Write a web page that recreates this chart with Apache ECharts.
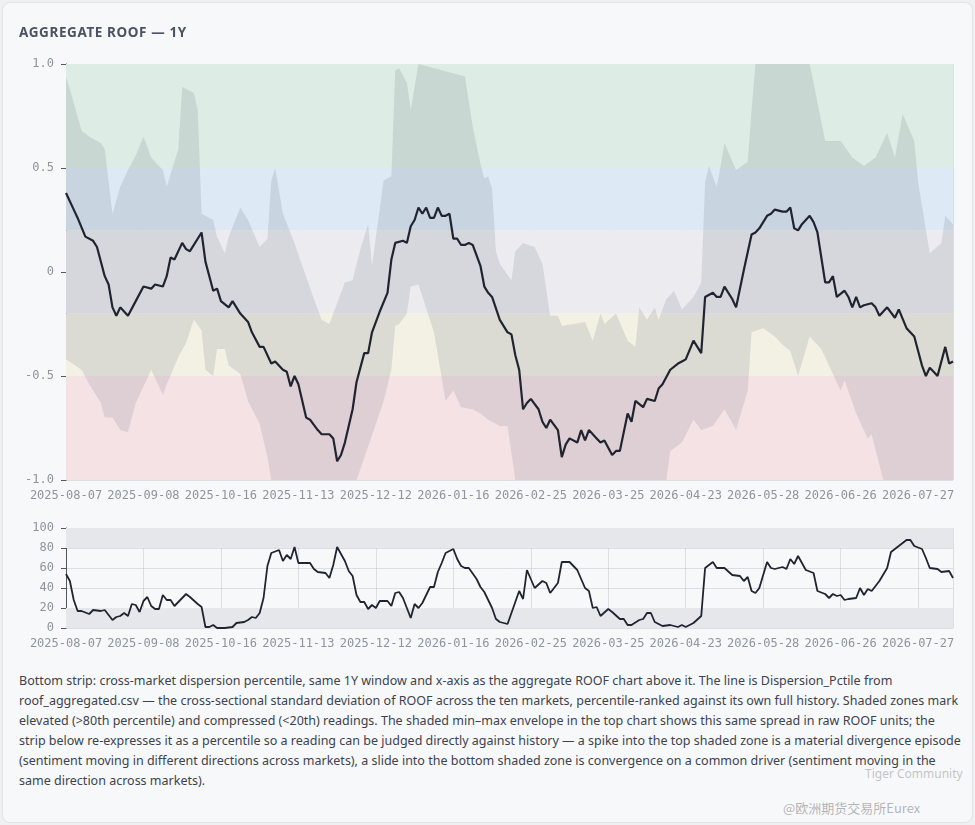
<!DOCTYPE html>
<html>
<head>
<meta charset="utf-8">
<script src="https://cdn.jsdelivr.net/npm/echarts@6/dist/echarts.min.js"></script>
<style>
  html, body { margin: 0; padding: 0; background: #eef0f2; }
  .card { position: absolute; left: 2px; top: 2px; width: 969px; height: 819px; background: #f7f8fa;
          border: 1px solid #e1e4e8; border-radius: 8px; }
  .ttl { position: absolute; left: 16px; top: 20px; font: 700 13.5px "Noto Sans", sans-serif; color: #4b5361; letter-spacing: 0.6px; }
  #chart { position: absolute; left: -3px; top: -3px; width: 975px; height: 665px; }
  .cap { position: absolute; left: 16px; top: 668px; width: 945px; font: 12.5px/20px "Noto Sans", sans-serif; color: #3d434c; }
  .wm1 { position: absolute; left: 862px; top: 762px; font: 12px "Noto Sans", sans-serif; color: rgba(150,150,150,0.55); }
  .wm2 { position: absolute; left: 780px; top: 795px; font: 13px "Noto Sans CJK SC", sans-serif; color: rgba(150,150,150,0.7); }
</style>
</head>
<body>
<div class="card">
  <div id="chart"></div>
  <div class="ttl">AGGREGATE ROOF — 1Y</div>
  <div class="cap">Bottom strip: cross-market dispersion percentile, same 1Y window and x-axis as the aggregate ROOF chart above it. The line is Dispersion_Pctile from roof_aggregated.csv — the cross-sectional standard deviation of ROOF across the ten markets, percentile-ranked against its own full history. Shaded zones mark elevated (&gt;80th percentile) and compressed (&lt;20th) readings. The shaded min–max envelope in the top chart shows this same spread in raw ROOF units; the strip below re-expresses it as a percentile so a reading can be judged directly against history — a spike into the top shaded zone is a material divergence episode (sentiment moving in different directions across markets), a slide into the bottom shaded zone is convergence on a common driver (sentiment moving in the same direction across markets).</div>
  <div class="wm1">Tiger Community</div>
  <div class="wm2">@欧洲期货交易所Eurex</div>
</div>
<script>
// tick labels, one every 20 trading days
var tickLabels = ['2025-08-07','2025-09-08','2025-10-16','2025-11-13','2025-12-12','2026-01-16',
  '2026-02-25','2026-03-25','2026-04-23','2026-05-28','2026-06-26','2026-07-27'];
var lastIndex = 229;

// aggregate ROOF [day index, value]
var roof = [[0,.38],[2,.30],[3,.26],[5,.17],[7,.15],[8,.12],[10,-.02],[11,-.06],[12,-.17],[13,-.21],[14,-.17],[16,-.21],
  [18,-.14],[20,-.07],[22,-.08],[23,-.06],[25,-.07],[26,-.02],[27,.07],[28,.06],[30,.14],[31,.11],[32,.10],[35,.19],
  [36,.05],[38,-.09],[39,-.08],[40,-.14],[42,-.17],[43,-.14],[45,-.20],[47,-.24],[48,-.29],[50,-.36],[51,-.36],[53,-.44],
  [54,-.43],[56,-.47],[57,-.48],[58,-.55],[59,-.50],[60,-.54],[62,-.70],[63,-.71],[65,-.76],[66,-.78],[68,-.78],[69,-.80],
  [70,-.91],[71,-.88],[72,-.82],[74,-.66],[75,-.53],[77,-.39],[78,-.39],[79,-.29],[81,-.19],[83,-.10],[84,.06],[85,.14],
  [87,.15],[88,.14],[89,.22],[90,.25],[91,.31],[92,.28],[93,.31],[94,.26],[95,.26],[96,.31],[97,.27],[98,.27],[99,.28],
  [100,.16],[101,.16],[102,.13],[103,.13],[104,.14],[105,.13],[107,.03],[108,-.07],[109,-.10],[110,-.12],[112,-.23],
  [114,-.29],[115,-.30],[116,-.40],[117,-.47],[118,-.66],[119,-.63],[120,-.61],[122,-.66],[123,-.72],[124,-.75],[125,-.71],
  [127,-.76],[128,-.89],[129,-.83],[130,-.80],[132,-.82],[133,-.76],[134,-.81],[135,-.76],[137,-.80],[138,-.82],[139,-.81],
  [141,-.88],[142,-.86],[143,-.86],[145,-.68],[146,-.72],[147,-.62],[149,-.65],[150,-.61],[152,-.62],[153,-.56],[154,-.54],
  [156,-.47],[158,-.44],[159,-.43],[160,-.42],[162,-.33],[164,-.39],[165,-.12],[167,-.10],[168,-.12],[169,-.12],[170,-.07],
  [172,-.13],[173,-.17],[175,.01],[177,.18],[178,.19],[179,.21],[181,.27],[182,.28],[183,.30],[185,.29],[186,.29],[187,.31],
  [188,.21],[189,.20],[190,.23],[192,.27],[193,.24],[194,.19],[196,-.05],[197,-.05],[198,-.02],[199,-.12],[201,-.09],
  [202,-.12],[203,-.17],[204,-.12],[205,-.17],[206,-.16],[208,-.15],[209,-.17],[210,-.21],[212,-.17],[214,-.22],[215,-.18],
  [217,-.27],[219,-.31],[220,-.38],[221,-.45],[222,-.50],[223,-.46],[224,-.48],[225,-.50],[227,-.36],[228,-.44],[229,-.43]];

// cross-market max / min envelope
var envMax = [[0,.94],[1,.88],[4,.68],[6,.65],[9,.62],[10,.59],[12,.28],[14,.41],[16,.49],[18,.56],[20,.65],[22,.55],
  [24,.51],[25,.49],[26,.41],[29,.59],[30,.89],[33,.86],[34,.78],[35,.28],[38,.25],[39,.17],[41,.09],[42,.17],[45,.31],
  [47,.25],[50,.12],[52,.16],[53,.44],[54,.50],[56,.28],[59,.14],[61,.03],[64,-.13],[66,-.23],[68,-.25],[72,-.05],[74,-.04],
  [76,.11],[78,.23],[79,.03],[82,.44],[84,.46],[85,.97],[86,.98],[88,.91],[89,.78],[91,1],[103,.94],[105,.70],[107,.52],
  [108,.45],[109,.46],[110,.40],[111,.10],[112,.04],[115,-.04],[116,.10],[118,.14],[121,.12],[123,.04],[125,-.21],[127,-.21],
  [128,-.26],[131,-.25],[134,-.24],[136,-.33],[138,-.20],[139,-.25],[142,-.20],[145,-.33],[147,-.36],[148,-.17],[150,-.23],
  [152,-.17],[153,-.23],[155,-.13],[157,-.09],[159,-.18],[162,-.12],[164,-.05],[165,.43],[166,.51],[168,.41],[169,.51],
  [170,.62],[173,.49],[176,.53],[177,.78],[178,1],[192,1],[193,.91],[196,.63],[200,.63],[203,.55],[206,.51],[209,.55],
  [212,.67],[214,.55],[216,.76],[219,.63],[220,.43],[223,.09],[226,.14],[227,.27],[229,.23]];
var envMin = [[0,-.42],[4,-.47],[6,-.54],[9,-.63],[10,-.70],[12,-.70],[14,-.76],[16,-.77],[18,-.63],[20,-.55],[22,-.47],
  [25,-.59],[26,-.54],[29,-.41],[31,-.34],[33,-.23],[35,-.28],[36,-.47],[38,-.50],[39,-.37],[41,-.37],[42,-.45],[45,-.49],
  [47,-.62],[50,-.73],[52,-.89],[53,-1],[75,-1],[78,-.84],[82,-.62],[84,-.47],[85,-.26],[86,-.25],[88,-.20],[89,-.07],
  [91,-.06],[95,-.29],[98,-.62],[100,-.57],[102,-.65],[105,-.66],[107,-.68],[109,-.71],[112,-.74],[114,-.74],[116,-1],
  [155,-1],[156,-.86],[159,-.82],[162,-.71],[164,-.76],[167,-.74],[170,-.66],[173,-.76],[176,-.57],[177,-.29],[180,-.27],
  [183,-.31],[185,-.35],[187,-.38],[189,-.50],[192,-.31],[195,-.37],[198,-.49],[200,-.57],[201,-.52],[204,-.68],[207,-.80],
  [208,-.78],[211,-1],[229,-1]];

// dispersion percentile
var disp = [[0,54],[1,47],[2,28],[3,17],[4,17],[6,14],[7,18],[9,17],[10,18],[12,8],[13,11],[14,12],[15,15],[16,12],[17,24],
  [18,23],[19,16],[20,27],[21,31],[22,22],[23,19],[24,19],[25,33],[26,28],[27,28],[28,22],[30,30],[31,34],[32,31],[34,24],
  [35,21],[36,1],[37,1],[38,3],[39,0],[41,0],[43,1],[44,5],[46,6],[47,8],[48,11],[49,10],[50,15],[51,30],[52,62],[53,75],
  [55,78],[56,67],[57,73],[58,69],[59,81],[60,65],[63,65],[64,59],[65,56],[67,55],[68,50],[69,63],[70,81],[72,67],[73,57],
  [74,52],[75,33],[76,26],[77,26],[78,19],[79,23],[80,20],[81,27],[83,27],[84,22],[85,35],[86,36],[87,30],[88,20],[89,10],
  [90,24],[91,20],[92,25],[94,41],[95,41],[96,56],[97,65],[98,75],[100,79],[101,69],[102,62],[103,60],[104,60],[106,49],
  [107,41],[108,36],[109,28],[110,20],[111,9],[112,6],[113,5],[114,4],[117,37],[118,29],[119,58],[121,40],[123,47],[124,45],
  [125,35],[127,45],[128,66],[130,66],[132,58],[134,40],[135,37],[136,20],[137,21],[138,12],[140,19],[141,16],[143,9],
  [144,9],[145,3],[146,3],[148,8],[149,9],[150,15],[151,15],[152,6],[154,2],[156,3],[158,1],[159,3],[160,1],[162,5],[164,12],
  [165,60],[167,66],[168,60],[170,60],[172,53],[174,52],[175,47],[176,51],[177,37],[178,35],[179,40],[181,66],[182,60],
  [183,59],[185,61],[186,59],[187,69],[188,64],[189,72],[191,58],[193,55],[194,37],[196,34],[197,30],[198,34],[199,32],
  [200,33],[201,28],[202,29],[204,30],[205,40],[206,33],[207,39],[208,37],[210,47],[212,60],[213,76],[215,82],[217,88],
  [218,88],[219,82],[221,79],[222,70],[223,60],[225,59],[226,56],[228,57],[229,50]];

var zoneBands = [[0.5, 1, '#ddece4'], [0.2, 0.5, '#dde9f4'], [-0.2, 0.2, '#ececf0'], [-0.5, -0.2, '#f3f1e4'], [-1, -0.5, '#f5e2e5']];

var mono = '"DejaVu Sans Mono", monospace';
function xAxisCfg(idx) {
  return {
    type: 'value', gridIndex: idx, min: 0, max: lastIndex, interval: 20,
    axisLine: { show: false }, axisTick: { show: false },
    axisLabel: { color: '#8f949c', fontFamily: mono, fontSize: 12, margin: 10,
      formatter: function (v) { return tickLabels[Math.round(v / 20)] || ''; } },
    splitLine: { show: true, lineStyle: { color: 'rgba(170,175,185,0.35)' } }
  };
}

var chart = echarts.init(document.getElementById('chart'));
chart.setOption({
  animation: false,
  grid: [
    { left: 66, right: 22, top: 64, height: 416 },
    { left: 66, right: 22, top: 528, height: 100 }
  ],
  xAxis: [xAxisCfg(0), xAxisCfg(1)],
  yAxis: [
    { type: 'value', gridIndex: 0, min: -1, max: 1, interval: 0.5,
      axisLabel: { color: '#8f949c', fontFamily: mono, fontSize: 12, margin: 12,
        formatter: function (v) { return v === 0 ? '0' : v.toFixed(1); } },
      splitLine: { lineStyle: { color: 'rgba(170,175,185,0.35)' } } },
    { type: 'value', gridIndex: 1, min: 0, max: 100, interval: 20,
      axisLabel: { color: '#8f949c', fontFamily: mono, fontSize: 12, margin: 12 },
      splitLine: { lineStyle: { color: 'rgba(170,175,185,0.35)' } } }
  ],
  series: [
    {
      type: 'custom', xAxisIndex: 0, yAxisIndex: 0, data: [0], silent: true, z: 2,
      renderItem: function (params, api) {
        var pts = envMax.map(function (p) { return api.coord(p); });
        for (var i = envMin.length - 1; i >= 0; i--) pts.push(api.coord(envMin[i]));
        return { type: 'polygon', shape: { points: pts }, style: { fill: 'rgba(105,110,130,0.17)' } };
      }
    },
    {
      type: 'line', xAxisIndex: 0, yAxisIndex: 0, data: roof, showSymbol: false, z: 3,
      lineStyle: { color: '#1f2430', width: 2.2 },
      markArea: { silent: true, data: zoneBands.map(function (b) {
        return [{ yAxis: b[0], itemStyle: { color: b[2] } }, { yAxis: b[1] }];
      }) }
    },
    {
      type: 'line', xAxisIndex: 1, yAxisIndex: 1, data: disp, showSymbol: false,
      lineStyle: { color: '#1f2430', width: 1.8 },
      markArea: { silent: true, itemStyle: { color: '#e5e7ea' }, data: [
        [{ yAxis: 80 }, { yAxis: 100 }], [{ yAxis: 0 }, { yAxis: 20 }]
      ] }
    }
  ]
});
</script>
</body>
</html>
